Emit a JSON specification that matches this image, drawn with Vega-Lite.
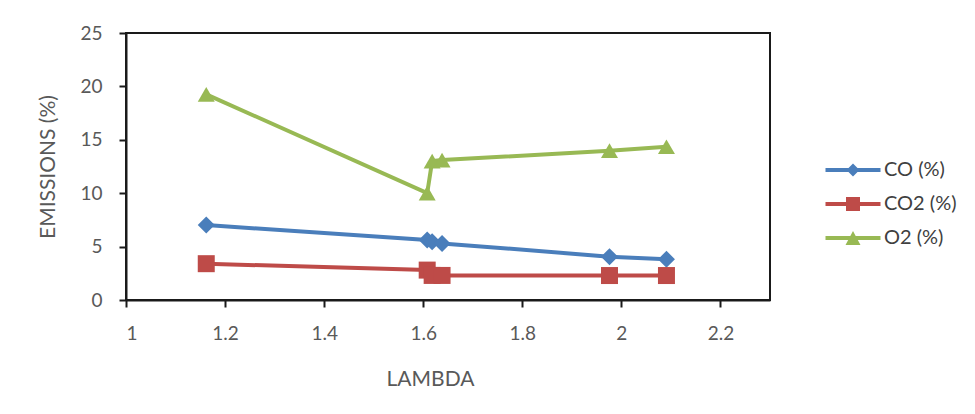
{
  "$schema": "https://vega.github.io/schema/vega-lite/v6.json",
  "width": 644,
  "height": 267,
  "autosize": {"type": "none"},
  "padding": {"left": 126, "top": 33, "right": 205, "bottom": 114},
  "background": "#ffffff",
  "config": {
    "font": "Lato",
    "view": {"stroke": "#1a1a1a", "strokeWidth": 2},
    "axis": {
      "domainColor": "#1a1a1a",
      "domainWidth": 2,
      "tickColor": "#1a1a1a",
      "tickWidth": 2,
      "tickSize": 7,
      "grid": false,
      "labelColor": "#595959",
      "labelFont": "Lato",
      "labelFontSize": 19,
      "titleColor": "#595959",
      "titleFont": "Lato",
      "titleFontSize": 21,
      "titleFontWeight": "normal"
    },
    "legend": {
      "labelFont": "Lato",
      "labelFontSize": 20,
      "labelColor": "#404040"
    }
  },
  "data": {
    "values": [
      {"lambda": 1.162, "series": "CO (%)", "value": 7.02},
      {"lambda": 1.608, "series": "CO (%)", "value": 5.62},
      {"lambda": 1.618, "series": "CO (%)", "value": 5.45},
      {"lambda": 1.638, "series": "CO (%)", "value": 5.3},
      {"lambda": 1.976, "series": "CO (%)", "value": 4.06},
      {"lambda": 2.091, "series": "CO (%)", "value": 3.81},
      {"lambda": 1.162, "series": "CO2 (%)", "value": 3.4},
      {"lambda": 1.608, "series": "CO2 (%)", "value": 2.8},
      {"lambda": 1.618, "series": "CO2 (%)", "value": 2.3},
      {"lambda": 1.638, "series": "CO2 (%)", "value": 2.3},
      {"lambda": 1.976, "series": "CO2 (%)", "value": 2.29},
      {"lambda": 2.091, "series": "CO2 (%)", "value": 2.29},
      {"lambda": 1.162, "series": "O2 (%)", "value": 19.26},
      {"lambda": 1.608, "series": "O2 (%)", "value": 10.0},
      {"lambda": 1.618, "series": "O2 (%)", "value": 13.0},
      {"lambda": 1.638, "series": "O2 (%)", "value": 13.1},
      {"lambda": 1.976, "series": "O2 (%)", "value": 13.98},
      {"lambda": 2.091, "series": "O2 (%)", "value": 14.35}
    ]
  },
  "encoding": {
    "x": {
      "field": "lambda",
      "type": "quantitative",
      "title": "LAMBDA",
      "scale": {"domain": [1, 2.3], "nice": false, "zero": false},
      "axis": {
        "values": [1, 1.2, 1.4, 1.6, 1.8, 2, 2.2],
        "format": "~g",
        "labelPadding": 17,
        "titlePadding": 25,
        "titleX": 304
      }
    },
    "y": {
      "field": "value",
      "type": "quantitative",
      "title": "EMISSIONS (%)",
      "scale": {"domain": [0, 25], "nice": false},
      "axis": {
        "values": [0, 5, 10, 15, 20, 25],
        "labelPadding": 17,
        "titlePadding": 21
      }
    },
    "color": {
      "field": "series",
      "type": "nominal",
      "scale": {
        "domain": ["CO (%)", "CO2 (%)", "O2 (%)"],
        "range": ["#4A7EBB", "#BE4B48", "#98B954"]
      },
      "legend": {
        "title": null,
        "orient": "none",
        "legendX": 707,
        "legendY": 117,
        "padding": 0,
        "symbolSize": 1600,
        "symbolStrokeWidth": 0,
        "symbolOpacity": 1,
        "labelOffset": 11,
        "rowPadding": 4,
        "encode": {
          "symbols": {
            "update": {
              "strokeWidth": {"value": 0},
              "shape": {
                "signal": "datum.value === 'CO (%)' ? 'M -1.375 -0.1 L 1.375 -0.1 L 1.375 0.1 L -1.375 0.1 Z M 0 -0.325 L 0.325 0 L 0 0.325 L -0.325 0 Z' : datum.value === 'CO2 (%)' ? 'M -1.375 -0.1 L 1.375 -0.1 L 1.375 0.1 L -1.375 0.1 Z M -0.35 -0.35 L 0.35 -0.35 L 0.35 0.35 L -0.35 0.35 Z' : 'M -1.375 -0.1 L 1.375 -0.1 L 1.375 0.1 L -1.375 0.1 Z M 0 -0.35 L 0.375 0.35 L -0.375 0.35 Z'"
              }
            }
          }
        }
      }
    }
  },
  "layer": [
    {
      "mark": {"type": "line", "strokeWidth": 4, "interpolate": "linear"}
    },
    {
      "transform": [{"filter": "datum.series === 'CO (%)'"}],
      "mark": {"type": "point", "filled": true, "opacity": 1, "size": 289, "shape": "diamond"}
    },
    {
      "transform": [{"filter": "datum.series === 'CO2 (%)'"}],
      "mark": {"type": "point", "filled": true, "opacity": 1, "size": 289, "shape": "square"}
    },
    {
      "transform": [{"filter": "datum.series === 'O2 (%)'"}],
      "mark": {"type": "point", "filled": true, "opacity": 1, "size": 289, "shape": "triangle-up"}
    }
  ]
}
